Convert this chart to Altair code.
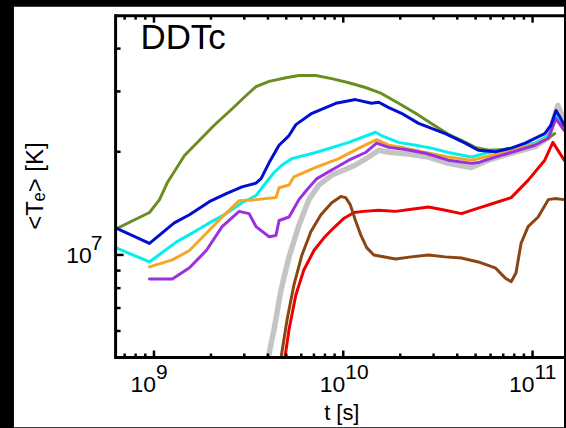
import altair as alt
import pandas as pd

W, H = 450, 343
X_DOMAIN = [6.27e8, 1.466e11]
Y_DOMAIN = [5.02e6, 4.99e7]
FONT = "Liberation Sans"

# ---- series (t in s, <Te> in K) ----
gray_t = [3.95e9, 4.31e9, 4.69e9, 5.17e9, 5.83e9, 6.58e9, 7.43e9, 8.69e9, 1.01e10, 1.16e10, 1.36e10,
          1.54e10, 1.78e10, 2.21e10, 2.82e10, 3.59e10, 4.75e10, 5.83e10, 7.71e10, 1.03e11, 1.21e11, 1.36e11, 1.47e11]
gray_T = [4.79e6, 6.06e6, 7.91e6, 9.87e6, 1.22e7, 1.45e7, 1.60e7, 1.71e7, 1.77e7, 1.83e7, 1.93e7,
          2.02e7, 1.99e7, 1.97e7, 1.93e7, 1.85e7, 1.80e7, 1.89e7, 1.98e7, 2.07e7, 2.20e7, 2.73e7, 2.47e7]

green_t = [6.27e8, 9.47e8, 1.07e9, 1.18e9, 1.45e9, 1.74e9, 2.08e9, 2.59e9, 2.99e9, 3.46e9, 4.06e9, 4.98e9,
           5.83e9, 7.16e9, 8.69e9, 1.07e10, 1.31e10, 1.59e10, 1.96e10, 2.41e10, 2.92e10, 3.59e10, 4.21e10,
           4.98e10, 5.83e10, 7.00e10, 8.39e10, 1.03e11, 1.21e11, 1.31e11]
green_T = [1.19e7, 1.33e7, 1.45e7, 1.63e7, 1.95e7, 2.16e7, 2.39e7, 2.67e7, 2.88e7, 3.10e7, 3.21e7, 3.29e7,
           3.34e7, 3.34e7, 3.27e7, 3.18e7, 3.08e7, 2.96e7, 2.77e7, 2.59e7, 2.42e7, 2.25e7, 2.16e7,
           2.06e7, 2.02e7, 2.03e7, 2.06e7, 2.12e7, 2.19e7, 2.26e7]

cyan_t = [6.27e8, 9.47e8, 1.31e9, 1.60e9, 1.96e9, 2.41e9, 2.92e9, 3.46e9, 3.82e9, 4.31e9, 4.75e9, 5.35e9,
          7.16e9, 1.07e10, 1.48e10, 1.59e10, 1.96e10, 2.41e10, 2.92e10, 3.59e10, 4.75e10, 5.62e10, 7.71e10,
          1.03e11, 1.21e11, 1.33e11, 1.41e11, 1.47e11]
cyan_T = [1.05e7, 9.54e6, 1.09e7, 1.16e7, 1.24e7, 1.32e7, 1.42e7, 1.49e7, 1.60e7, 1.74e7, 1.83e7, 1.91e7,
          1.99e7, 2.13e7, 2.28e7, 2.23e7, 2.13e7, 2.09e7, 2.05e7, 1.99e7, 1.93e7, 1.98e7, 2.05e7,
          2.12e7, 2.23e7, 2.55e7, 2.47e7, 2.34e7]

orange_t = [9.47e8, 1.25e9, 1.54e9, 1.96e9, 2.29e9, 2.82e9, 3.46e9, 4.41e9, 4.58e9, 5.17e9, 5.49e9, 7.16e9,
            9.47e9, 1.21e10, 1.50e10, 1.74e10, 2.13e10, 2.72e10, 3.59e10, 4.75e10, 5.83e10, 7.71e10,
            1.03e11, 1.21e11, 1.33e11, 1.47e11]
orange_T = [9.23e6, 9.67e6, 1.03e7, 1.18e7, 1.29e7, 1.44e7, 1.45e7, 1.47e7, 1.57e7, 1.60e7, 1.69e7, 1.80e7,
            1.91e7, 2.05e7, 2.17e7, 2.09e7, 2.05e7, 1.99e7, 1.93e7, 1.89e7, 1.94e7, 2.02e7,
            2.10e7, 2.20e7, 2.50e7, 2.31e7]

purple_t = [9.47e8, 1.25e9, 1.54e9, 1.89e9, 2.29e9, 2.82e9, 3.18e9, 3.46e9, 4.06e9, 4.41e9, 4.58e9, 5.17e9,
            5.83e9, 6.43e9, 7.26e9, 8.69e9, 1.07e10, 1.31e10, 1.50e10, 1.74e10, 2.13e10, 2.72e10, 3.59e10,
            4.75e10, 5.17e10, 6.35e10, 7.71e10, 1.03e11, 1.21e11, 1.33e11, 1.47e11]
purple_T = [8.51e6, 8.51e6, 9.17e6, 1.03e7, 1.21e7, 1.34e7, 1.32e7, 1.21e7, 1.13e7, 1.14e7, 1.26e7, 1.29e7,
            1.45e7, 1.55e7, 1.67e7, 1.77e7, 1.89e7, 1.99e7, 2.12e7, 2.06e7, 2.03e7, 1.98e7, 1.89e7,
            1.85e7, 1.86e7, 1.93e7, 1.99e7, 2.09e7, 2.19e7, 2.50e7, 2.31e7]

blue_t = [6.27e8, 9.47e8, 1.28e9, 1.54e9, 1.96e9, 2.41e9, 2.92e9, 3.46e9, 3.68e9, 4.06e9, 4.58e9, 5.17e9,
          5.62e9, 6.83e9, 9.14e9, 1.16e10, 1.41e10, 1.54e10, 1.74e10, 2.03e10, 2.50e10, 3.46e10, 4.41e10,
          5.17e10, 6.35e10, 7.71e10, 9.14e10, 1.16e11, 1.25e11, 1.33e11, 1.41e11, 1.47e11]
blue_T = [1.20e7, 1.08e7, 1.24e7, 1.31e7, 1.43e7, 1.51e7, 1.58e7, 1.62e7, 1.67e7, 1.86e7, 2.09e7, 2.23e7,
          2.40e7, 2.59e7, 2.77e7, 2.84e7, 2.77e7, 2.79e7, 2.69e7, 2.59e7, 2.42e7, 2.26e7, 2.12e7,
          2.02e7, 2.00e7, 2.05e7, 2.12e7, 2.26e7, 2.39e7, 2.64e7, 2.50e7, 2.39e7]

red_t = [4.86e9, 5.17e9, 5.62e9, 6.19e9, 7.00e9, 7.89e9, 8.91e9, 1.01e10, 1.14e10, 1.28e10, 1.54e10,
         1.89e10, 2.29e10, 2.82e10, 3.46e10, 4.21e10, 5.17e10, 6.35e10, 7.71e10, 9.47e10, 1.16e11,
         1.28e11, 1.47e11]
red_T = [4.79e6, 6.06e6, 7.65e6, 9.04e6, 1.03e7, 1.12e7, 1.20e7, 1.28e7, 1.33e7, 1.34e7, 1.35e7,
         1.34e7, 1.36e7, 1.38e7, 1.35e7, 1.32e7, 1.37e7, 1.42e7, 1.47e7, 1.65e7, 1.89e7,
         2.13e7, 1.89e7]

brown_t = [4.63e9, 5.05e9, 5.49e9, 6.05e9, 6.75e9, 7.62e9, 8.69e9, 9.71e9, 1.03e10, 1.09e10, 1.16e10,
           1.24e10, 1.33e10, 1.45e10, 1.89e10, 2.29e10, 2.82e10, 3.46e10, 4.21e10, 5.17e10, 6.35e10,
           7.16e10, 7.71e10, 8.18e10, 8.69e10, 9.47e10, 1.07e11, 1.21e11, 1.31e11, 1.47e11]
brown_T = [4.79e6, 6.48e6, 8.18e6, 1.00e7, 1.17e7, 1.31e7, 1.42e7, 1.48e7, 1.47e7, 1.40e7, 1.26e7,
           1.14e7, 1.05e7, 1.00e7, 9.73e6, 9.87e6, 1.00e7, 9.87e6, 9.80e6, 9.54e6, 9.17e6,
           8.57e6, 8.35e6, 8.87e6, 1.08e7, 1.21e7, 1.29e7, 1.45e7, 1.46e7, 1.45e7]

series = [
    (gray_t, gray_T, "#c4c4c4", 5.5),
    (green_t, green_T, "#6b8e23", 3),
    (cyan_t, cyan_T, "#00f0f0", 3),
    (orange_t, orange_T, "#f5a623", 3),
    (purple_t, purple_T, "#9b30e0", 3),
    (blue_t, blue_T, "#0010d0", 3),
    (red_t, red_T, "#ee0000", 3),
    (brown_t, brown_T, "#8b4513", 3),
]

# ---- axis ticks ----
x_major = [1e9, 1e10, 1e11]
x_major_exp = ["9", "10", "11"]
x_minor = [7e8, 8e8, 9e8, 2e9, 3e9, 4e9, 5e9, 6e9, 7e9, 8e9, 9e9,
           2e10, 3e10, 4e10, 5e10, 6e10, 7e10, 8e10, 9e10]
y_major = [1e7]
y_major_exp = ["7"]
y_minor = [6e6, 7e6, 8e6, 9e6, 2e7, 3e7, 4e7]

xs = alt.Scale(type="log", domain=X_DOMAIN, nice=False)
ys = alt.Scale(type="log", domain=Y_DOMAIN, nice=False)
one = pd.DataFrame({"a": [0]})

layers = []
# white page area
layers.append(alt.Chart(one).mark_rect(color="white").encode(
    x=alt.value(-102), x2=alt.value(W), y=alt.value(-9), y2=alt.value(413)))

for t, T, col, sw in series:
    df = pd.DataFrame({"t": t, "T": T})
    layers.append(alt.Chart(df).mark_line(color=col, strokeWidth=sw, clip=True,
                                          strokeJoin="round", strokeCap="round").encode(
        x=alt.X("t:Q", scale=xs, axis=None),
        y=alt.Y("T:Q", scale=ys, axis=None)))

# frame
for enc in [dict(x=alt.value(0), x2=alt.value(W), y=alt.value(H)),
            dict(x=alt.value(0), x2=alt.value(W), y=alt.value(0)),
            dict(x=alt.value(0), y=alt.value(-1.5), y2=alt.value(H + 1.5))]:
    layers.append(alt.Chart(one).mark_rule(color="black", strokeWidth=3).encode(**enc))

xmaj = pd.DataFrame({"v": x_major, "e": x_major_exp})
xmin = pd.DataFrame({"v": x_minor})
ymaj = pd.DataFrame({"v": y_major, "e": y_major_exp})
ymin = pd.DataFrame({"v": y_minor})

def xticks(df, y0, y1):
    return alt.Chart(df).mark_rule(color="black", strokeWidth=2.5).encode(
        x=alt.X("v:Q", scale=xs, axis=None), y=alt.value(y0), y2=alt.value(y1))

def yticks(df, x0, x1):
    return alt.Chart(df).mark_rule(color="black", strokeWidth=2.5).encode(
        y=alt.Y("v:Q", scale=ys, axis=None), x=alt.value(x0), x2=alt.value(x1))

layers += [xticks(xmaj, H, H - 7), xticks(xmin, H, H - 4),
           xticks(xmaj, 0, 7), xticks(xmin, 0, 4),
           yticks(ymaj, 0, 8), yticks(ymin, 0, 5)]

# tick labels
layers.append(alt.Chart(xmaj).mark_text(text="10", font=FONT, fontSize=23, align="right",
                                        baseline="alphabetic", dx=2, color="black").encode(
    x=alt.X("v:Q", scale=xs, axis=None), y=alt.value(378)))
layers.append(alt.Chart(xmaj).mark_text(font=FONT, fontSize=21, align="left",
                                        baseline="alphabetic", dx=2, color="black").encode(
    x=alt.X("v:Q", scale=xs, axis=None), y=alt.value(365), text="e:N"))
layers.append(alt.Chart(ymaj).mark_text(text="10", font=FONT, fontSize=23, align="right",
                                        baseline="alphabetic", dy=8, color="black").encode(
    y=alt.Y("v:Q", scale=ys, axis=None), x=alt.value(-24)))
layers.append(alt.Chart(ymaj).mark_text(font=FONT, fontSize=21, align="left",
                                        baseline="alphabetic", dy=-5, color="black").encode(
    y=alt.Y("v:Q", scale=ys, axis=None), x=alt.value(-25), text="e:N"))

# titles
layers.append(alt.Chart(one).mark_text(text="t [s]", font=FONT, fontSize=22, align="center",
                                       baseline="alphabetic", color="black").encode(
    x=alt.value(227), y=alt.value(406)))
layers.append(alt.Chart(one).mark_text(text="<Tₑ> [K]", font=FONT, fontSize=24, align="center",
                                       baseline="alphabetic", angle=270, color="black").encode(
    x=alt.value(-73), y=alt.value(171)))
layers.append(alt.Chart(one).mark_text(text="DDTc", font="Liberation Sans Narrow, Liberation Sans",
                                       fontSize=35, align="left",
                                       baseline="alphabetic", color="black").encode(
    x=alt.value(25), y=alt.value(33)))

chart = alt.layer(*layers).properties(
    width=W, height=H, background="black",
    padding={"left": 14, "top": 6, "right": 0, "bottom": 0},
).configure_view(strokeWidth=0, fill="white")

chart.save("out.html", embed_options={"renderer": "svg", "actions": False})
